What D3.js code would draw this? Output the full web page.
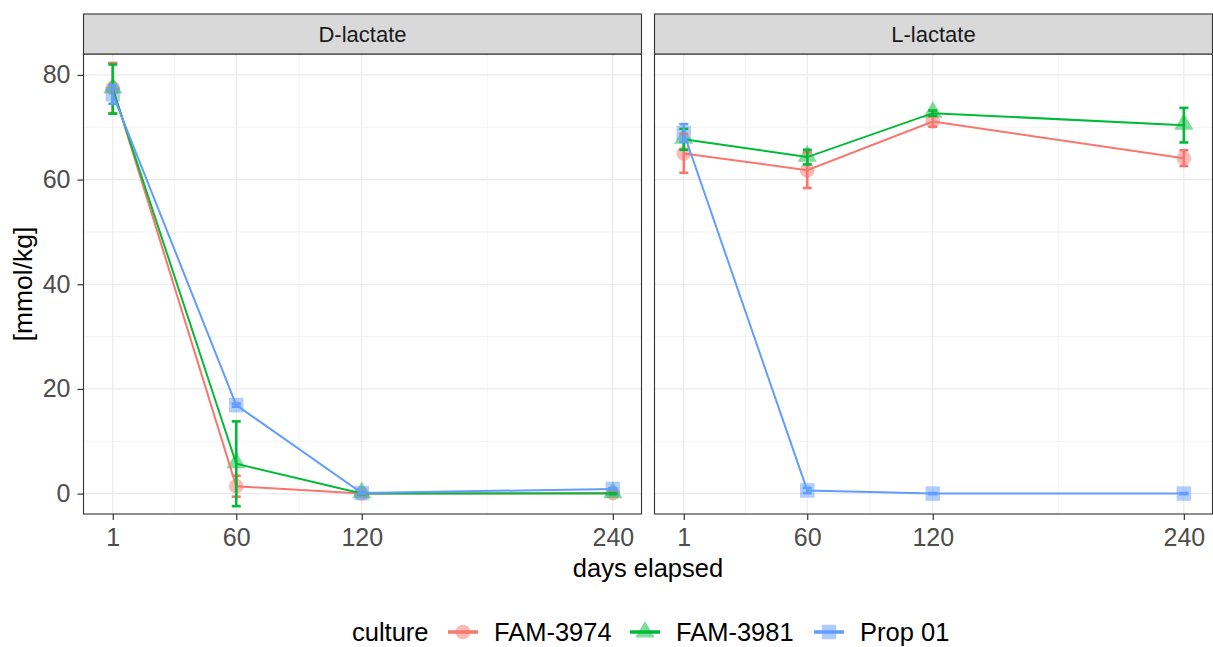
<!DOCTYPE html>
<html>
<head>
<meta charset="utf-8">
<script src="https://cdn.jsdelivr.net/npm/d3@7"></script>
<style>
  body { margin: 0; background: #fff; }
  text { font-family: "Liberation Sans", Arial, sans-serif; }
</style>
</head>
<body>
<div id="chart"></div>
<script>
// data
const days = [1, 60, 120, 240];
const panels = ['D-lactate', 'L-lactate'];
const cultures = ['FAM-3974', 'FAM-3981', 'Prop 01'];
const colors = ['#F8766D', '#00BA38', '#619CFF'];
const yTicks = [0, 20, 40, 60, 80];
const yMinor = [10, 30, 50, 70];
const xMinor = [30.5, 90, 180];

// D-lactate means / sd
const dMean3974 = [77.5, 1.4, 0.0, 0.1];
const dSd3974 = [4.8, 2.0, 0.1, 0.1];
const dMean3981 = [77.3, 5.7, 0.0, 0.0];
const dSd3981 = [4.7, 8.1, 0.1, 0.1];
const dMeanProp = [76.3, 16.9, 0.1, 0.9];
const dSdProp = [1.8, 0.3, 0.1, 0.1];

// L-lactate means / sd
const lMean3974 = [65.0, 61.8, 71.1, 64.1];
const lSd3974 = [3.7, 3.4, 1.0, 1.5];
const lMean3981 = [67.7, 64.3, 72.7, 70.4];
const lSd3981 = [2.0, 1.4, 0.5, 3.3];
const lMeanProp = [68.9, 0.6, 0.0, 0.0];
const lSdProp = [1.7, 0.5, 0.1, 0.1];

const series = [
  { panel: 0, c: 0, mean: dMean3974, sd: dSd3974 },
  { panel: 0, c: 1, mean: dMean3981, sd: dSd3981 },
  { panel: 0, c: 2, mean: dMeanProp, sd: dSdProp },
  { panel: 1, c: 0, mean: lMean3974, sd: lSd3974 },
  { panel: 1, c: 1, mean: lMean3981, sd: lSd3981 },
  { panel: 1, c: 2, mean: lMeanProp, sd: lSdProp }
];

const width = 1213, height = 647;
const plotTop = 54, plotBottom = 514, stripTop = 14;
const panelX = [83.5, 654.5], panelW = 558;

const svg = d3.select('#chart').append('svg')
  .attr('width', width).attr('height', height);

const y = d3.scaleLinear().domain([-3.9, 84.0]).range([plotBottom, plotTop]);

const shapes = [d3.symbolCircle, d3.symbolTriangle, d3.symbolSquare];
const shapeSize = [170, 160, 210];

panels.forEach((name, p) => {
  const x = d3.scaleLinear().domain([-13, 253.7]).range([panelX[p], panelX[p] + panelW]);
  const g = svg.append('g');

  // grid
  g.selectAll('.ym').data(yMinor).join('line')
    .attr('x1', panelX[p]).attr('x2', panelX[p] + panelW)
    .attr('y1', d => y(d)).attr('y2', d => y(d))
    .attr('stroke', '#EBEBEB').attr('stroke-width', 0.6);
  g.selectAll('.xm').data(xMinor).join('line')
    .attr('y1', plotTop).attr('y2', plotBottom)
    .attr('x1', d => x(d)).attr('x2', d => x(d))
    .attr('stroke', '#EBEBEB').attr('stroke-width', 0.6);
  g.selectAll('.yM').data(yTicks).join('line')
    .attr('x1', panelX[p]).attr('x2', panelX[p] + panelW)
    .attr('y1', d => y(d)).attr('y2', d => y(d))
    .attr('stroke', '#EBEBEB').attr('stroke-width', 1.2);
  g.selectAll('.xM').data(days).join('line')
    .attr('y1', plotTop).attr('y2', plotBottom)
    .attr('x1', d => x(d)).attr('x2', d => x(d))
    .attr('stroke', '#EBEBEB').attr('stroke-width', 1.2);

  const ser = series.filter(s => s.panel === p);

  // points
  ser.forEach(s => {
    g.selectAll(null).data(days).join('path')
      .attr('d', d3.symbol(shapes[s.c], shapeSize[s.c]))
      .attr('transform', (d, i) => `translate(${x(d)},${y(s.mean[i]) + (s.c === 1 ? -1 : 0)})`)
      .attr('fill', colors[s.c]).attr('fill-opacity', 0.5);
  });

  // lines
  const line = d3.line().x(d => x(d[0])).y(d => y(d[1]));
  ser.forEach(s => {
    g.append('path')
      .attr('d', line(days.map((d, i) => [d, s.mean[i]])))
      .attr('fill', 'none').attr('stroke', colors[s.c]).attr('stroke-width', 2);
  });

  // error bars
  ser.forEach(s => {
    days.forEach((d, i) => {
      const lo = y(s.mean[i] - s.sd[i]), hi = y(s.mean[i] + s.sd[i]);
      const cx = x(d);
      const eb = g.append('g').attr('stroke', colors[s.c]).attr('stroke-width', 2.6);
      eb.append('line').attr('x1', cx).attr('x2', cx).attr('y1', lo).attr('y2', hi);
      eb.append('line').attr('x1', cx - 4.5).attr('x2', cx + 4.5).attr('y1', lo).attr('y2', lo);
      eb.append('line').attr('x1', cx - 4.5).attr('x2', cx + 4.5).attr('y1', hi).attr('y2', hi);
    });
  });

  // border
  g.append('rect')
    .attr('x', panelX[p]).attr('y', plotTop).attr('width', panelW).attr('height', plotBottom - plotTop)
    .attr('fill', 'none').attr('stroke', '#333333').attr('stroke-width', 1.1);

  // strip
  g.append('rect')
    .attr('x', panelX[p]).attr('y', stripTop).attr('width', panelW).attr('height', plotTop - stripTop)
    .attr('fill', '#D9D9D9').attr('stroke', '#333333').attr('stroke-width', 1.1);
  g.append('text')
    .attr('x', panelX[p] + panelW / 2).attr('y', (plotTop + stripTop) / 2 + 7.8)
    .attr('text-anchor', 'middle').attr('font-size', 22).attr('fill', '#1A1A1A')
    .text(name);

  // x axis
  const xAxis = d3.axisBottom(x).tickValues(days).tickSize(6).tickPadding(8);
  const ax = g.append('g').attr('transform', `translate(0,${plotBottom})`).call(xAxis);
  ax.select('.domain').remove();
  ax.selectAll('.tick line').attr('stroke', '#333333').attr('stroke-width', 1.2);
  ax.selectAll('.tick text').attr('font-size', 25).attr('fill', '#4D4D4D')
    .attr('font-family', '"Liberation Sans", Arial, sans-serif');

  if (p === 0) {
    const yAxis = d3.axisLeft(y).tickValues(yTicks).tickSize(6).tickPadding(7);
    const ay = g.append('g').attr('transform', `translate(${panelX[0]},0)`).call(yAxis);
    ay.select('.domain').remove();
    ay.selectAll('.tick line').attr('stroke', '#333333').attr('stroke-width', 1.2);
    ay.selectAll('.tick text').attr('font-size', 25).attr('fill', '#4D4D4D')
      .attr('font-family', '"Liberation Sans", Arial, sans-serif');
  }
});

// axis titles
svg.append('text')
  .attr('x', (panelX[0] + panelX[1] + panelW) / 2).attr('y', 577)
  .attr('text-anchor', 'middle').attr('font-size', 25.5).attr('fill', '#000')
  .text('days elapsed');
svg.append('text')
  .attr('transform', `translate(32,${(plotTop + plotBottom) / 2}) rotate(-90)`)
  .attr('text-anchor', 'middle').attr('font-size', 26.5).attr('fill', '#000')
  .text('[mmol/kg]');

// legend
const legY = 632;
svg.append('text').attr('x', 352).attr('y', legY + 9).attr('font-size', 25.5).text('culture');
const keyX = [463, 645, 829];
cultures.forEach((c, i) => {
  const k = svg.append('g').attr('transform', `translate(${keyX[i]},${legY})`);
  k.append('path').attr('d', d3.symbol(shapes[i], shapeSize[i])())
    .attr('fill', colors[i]).attr('fill-opacity', 0.5);
  k.append('line').attr('x1', -15).attr('x2', 15).attr('y1', 0).attr('y2', 0)
    .attr('stroke', colors[i]).attr('stroke-width', 3.5);
  svg.append('text').attr('x', keyX[i] + 31).attr('y', legY + 9)
    .attr('font-size', 25.5).text(c);
});
</script>
</body>
</html>
